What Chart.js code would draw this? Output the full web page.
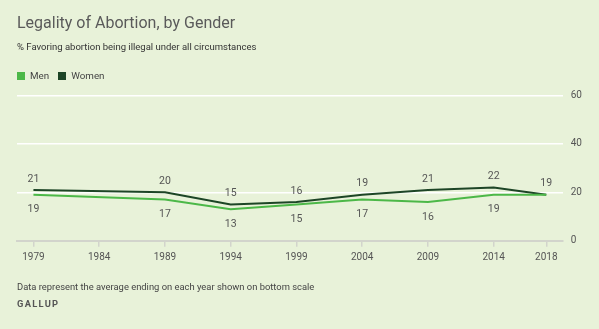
<!DOCTYPE html>
<html>
<head>
<meta charset="utf-8">
<script src="https://cdn.jsdelivr.net/npm/chart.js@4/dist/chart.umd.min.js"></script>
<style>
  html, body { margin: 0; padding: 0; }
  body { width: 599px; height: 329px; background: #e8f2d9; position: relative; overflow: hidden; font-family: Roboto, "Noto Sans", sans-serif; }
  #chart { position: absolute; left: 0; top: 0; }
  .txt { position: absolute; left: 17px; white-space: nowrap; color: #555; }
  #title { top: 12px; font-size: 16px; line-height: 22px; color: #5a5a5a; }
  #sub { top: 40px; font-size: 9.5px; line-height: 13px; color: #333; }
  #legend { top: 69px; font-size: 9.8px; line-height: 13px; color: #444; }
  #legend span.sw { display: inline-block; width: 8px; height: 8px; vertical-align: -1px; margin-right: 5px; }
  #legend span.it { margin-right: 9px; }
  #note { top: 280px; font-size: 9.4px; line-height: 13px; color: #444; }
  #src { top: 298px; font-size: 9.3px; line-height: 12px; color: #555; font-weight: 700; letter-spacing: 1.3px; }
</style>
</head>
<body>
<canvas id="chart" width="599" height="329"></canvas>
<div class="txt" id="title">Legality of Abortion, by Gender</div>
<div class="txt" id="sub">% Favoring abortion being illegal under all circumstances</div>
<div class="txt" id="legend"><span class="it"><span class="sw" style="background:#4cb848"></span>Men</span><span class="it"><span class="sw" style="background:#1d4526"></span>Women</span></div>
<div class="txt" id="note">Data represent the average ending on each year shown on bottom scale</div>
<div class="txt" id="src">GALLUP</div>
<script>
// data
const years = [1979, 1989, 1994, 1999, 2004, 2009, 2014, 2018];
const men = [19, 17, 13, 15, 17, 16, 19, 19];
const women = [21, 20, 15, 16, 19, 21, 22, 19];
const xTicks = [1979, 1984, 1989, 1994, 1999, 2004, 2009, 2014, 2018];
const yTicks = [0, 20, 40, 60];

const menColor = '#4cb848';
const womenColor = '#1d4526';

// numbers above (women) and below (men) each point
const pointLabels = {
  id: 'pointLabels',
  afterDatasetsDraw(chart) {
    const ctx = chart.ctx;
    ctx.save();
    ctx.font = '10.5px Roboto, "Noto Sans", sans-serif';
    ctx.fillStyle = '#555';
    ctx.textAlign = 'center';
    ctx.textBaseline = 'middle';
    const mMeta = chart.getDatasetMeta(0);
    const wMeta = chart.getDatasetMeta(1);
    wMeta.data.forEach((p, i) => {
      ctx.fillText(String(women[i]), p.x, p.y - 11);
    });
    mMeta.data.forEach((p, i) => {
      if (men[i] === women[i]) return;
      ctx.fillText(String(men[i]), p.x, p.y + 15);
    });
    ctx.restore();
  }
};

new Chart(document.getElementById('chart'), {
  type: 'line',
  data: {
    datasets: [
      {
        label: 'Men',
        data: years.map((y, i) => ({ x: y, y: men[i] })),
        borderColor: menColor,
        backgroundColor: menColor,
        borderWidth: 2,
        pointRadius: 0,
        tension: 0
      },
      {
        label: 'Women',
        data: years.map((y, i) => ({ x: y, y: women[i] })),
        borderColor: womenColor,
        backgroundColor: womenColor,
        borderWidth: 2,
        pointRadius: 0,
        tension: 0
      }
    ]
  },
  options: {
    responsive: false,
    animation: false,
    layout: { padding: { left: 17, right: 0, top: 95.5, bottom: 0 } },
    plugins: {
      legend: { display: false },
      tooltip: { enabled: false }
    },
    scales: {
      x: {
        type: 'linear',
        min: 1977.75,
        max: 2019.25,
        afterBuildTicks: (axis) => { axis.ticks = xTicks.map(v => ({ value: v })); },
        afterFit: (axis) => { axis.height = 88.3; },
        ticks: {
          callback: (v) => String(v),
          color: '#555',
          font: { size: 10, family: 'Roboto, "Noto Sans", sans-serif' },
          padding: 5,
          maxRotation: 0,
          autoSkip: false
        },
        grid: { drawOnChartArea: false, drawTicks: true, tickLength: 6, color: '#d2d4cc', lineWidth: 1.5 },
        border: { color: '#d2d4cc', width: 2 }
      },
      y: {
        position: 'right',
        min: 0,
        max: 60,
        afterBuildTicks: (axis) => { axis.ticks = yTicks.map(v => ({ value: v })); },
        afterFit: (axis) => { axis.width = 36.3; },
        ticks: {
          color: '#555',
          font: { size: 10, family: 'Roboto, "Noto Sans", sans-serif' },
          padding: 8
        },
        grid: {
          drawTicks: false,
          color: (c) => c.tick && c.tick.value === 0 ? 'rgba(0,0,0,0)' : '#ffffff',
          lineWidth: 1.5
        },
        border: { display: false }
      }
    }
  },
  plugins: [pointLabels]
});
</script>
</body>
</html>
